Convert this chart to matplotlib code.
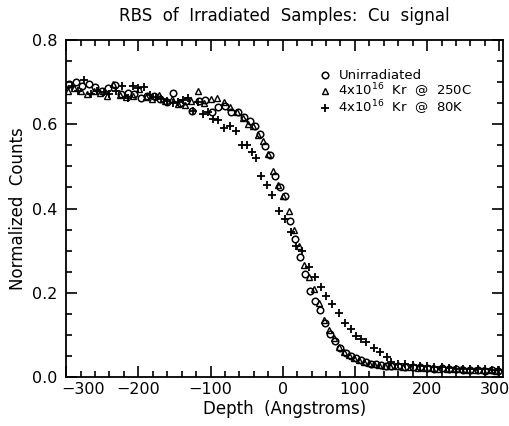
import matplotlib

matplotlib.use("Agg")

import matplotlib.pyplot as plt
import matplotlib.transforms as mtransforms
from matplotlib.lines import Line2D
from matplotlib.ticker import MultipleLocator

# Unirradiated (open circles)
unirr_depth = [-296, -287, -278, -269, -260, -251, -242, -233, -224, -215, -206, -197, -188, -179,
               -170, -161, -152, -143, -134, -125, -116, -107, -98, -89, -80, -71, -62, -53, -46,
               -39, -32, -25, -18, -11, -4, 3, 10, 17, 24, 31, 38, 45, 52, 59, 66, 73, 80, 87, 94,
               101, 108, 115, 122, 129, 136, 143, 150, 160, 170, 180, 190, 200, 210, 220, 230, 240,
               250, 260, 270, 280, 290, 298]
unirr_counts = [0.695, 0.700, 0.690, 0.695, 0.688, 0.680, 0.685, 0.693, 0.672, 0.675, 0.671, 0.662,
                0.668, 0.667, 0.660, 0.652, 0.674, 0.650, 0.655, 0.631, 0.655, 0.657, 0.629, 0.640,
                0.643, 0.629, 0.629, 0.617, 0.607, 0.595, 0.578, 0.548, 0.526, 0.478, 0.450, 0.430,
                0.371, 0.328, 0.285, 0.245, 0.205, 0.180, 0.160, 0.129, 0.102, 0.086, 0.068, 0.058,
                0.050, 0.045, 0.040, 0.035, 0.032, 0.030, 0.028, 0.027, 0.026, 0.025, 0.024, 0.024,
                0.023, 0.022, 0.020, 0.021, 0.018, 0.019, 0.017, 0.016, 0.017, 0.015, 0.016, 0.015]

# 4x10^16 Kr @ 250C (open triangles)
hot_depth = [-298, -289, -280, -271, -262, -253, -244, -235, -226, -217, -208, -199, -190, -181,
             -172, -163, -154, -145, -136, -127, -118, -109, -100, -91, -82, -73, -64, -55, -48,
             -41, -34, -27, -20, -13, -6, 1, 8, 15, 22, 29, 36, 43, 50, 57, 64, 71, 78, 85, 92, 99,
             106, 113, 120, 127, 134, 141, 148, 157, 167, 177, 187, 197, 207, 217, 227, 237, 247,
             257, 267, 277, 287, 296]
hot_counts = [0.680, 0.685, 0.678, 0.672, 0.680, 0.675, 0.668, 0.695, 0.670, 0.665, 0.668, 0.683,
              0.665, 0.660, 0.670, 0.655, 0.660, 0.648, 0.645, 0.655, 0.679, 0.650, 0.660, 0.662,
              0.652, 0.640, 0.629, 0.615, 0.600, 0.595, 0.575, 0.560, 0.530, 0.490, 0.455, 0.430,
              0.395, 0.348, 0.310, 0.266, 0.238, 0.210, 0.175, 0.135, 0.112, 0.092, 0.072, 0.060,
              0.052, 0.046, 0.040, 0.036, 0.033, 0.030, 0.028, 0.027, 0.026, 0.025, 0.024, 0.023,
              0.022, 0.022, 0.021, 0.020, 0.019, 0.019, 0.018, 0.017, 0.017, 0.016, 0.016, 0.015]

# 4x10^16 Kr @ 80K (plus signs)
cold_depth = [-300, -292, -284, -275, -266, -257, -248, -240, -231, -222, -215, -208, -200, -192,
              -184, -176, -168, -160, -152, -145, -138, -131, -124, -117, -110, -103, -96, -89,
              -81, -73, -65, -57, -49, -42, -37, -30, -22, -15, -5, 3, 11, 19, 27, 36, 45, 53, 60,
              68, 78, 86, 95, 101, 108, 115, 127, 135, 144, 150, 160, 170, 180, 190, 200, 210, 220,
              230, 240, 250, 260, 270, 280, 290, 298]
cold_counts = [0.685, 0.690, 0.680, 0.705, 0.672, 0.680, 0.676, 0.672, 0.680, 0.690, 0.662, 0.690,
               0.685, 0.688, 0.670, 0.665, 0.660, 0.655, 0.650, 0.652, 0.657, 0.662, 0.631, 0.652,
               0.624, 0.629, 0.612, 0.610, 0.590, 0.595, 0.583, 0.552, 0.550, 0.535, 0.519, 0.478,
               0.455, 0.431, 0.395, 0.376, 0.345, 0.312, 0.298, 0.262, 0.238, 0.214, 0.193, 0.174,
               0.152, 0.129, 0.114, 0.097, 0.090, 0.082, 0.069, 0.060, 0.048, 0.036, 0.032, 0.030,
               0.028, 0.027, 0.025, 0.024, 0.023, 0.022, 0.020, 0.020, 0.019, 0.018, 0.018, 0.017,
               0.016]

labels = ["Unirradiated", r"4x10$^{16}$  Kr  @  250C", r"4x10$^{16}$  Kr  @  80K"]

plt.rcParams["font.family"] = ["DejaVu Sans"]

circle_style = dict(linestyle="none", marker="o", markersize=4.7, markerfacecolor="none",
                    markeredgecolor="black", markeredgewidth=1.1)
triangle_style = dict(linestyle="none", marker="^", markersize=4.0, markerfacecolor="none",
                      markeredgecolor="black", markeredgewidth=1.0)
plus_style = dict(linestyle="none", marker="+", markersize=5.2, color="black", markeredgewidth=1.3)

fig = plt.figure(figsize=(5.09, 4.26), dpi=100)
ax = fig.add_axes([0.130, 0.115, 0.858, 0.791])

ax.plot(unirr_depth, unirr_counts, **circle_style)
ax.plot(hot_depth, hot_counts, **triangle_style)
ax.plot(cold_depth, cold_counts, **plus_style)

ax.set_xlim(-300, 305)
ax.set_ylim(0.0, 0.8)
ax.xaxis.set_major_locator(MultipleLocator(100))
ax.xaxis.set_minor_locator(MultipleLocator(20))
ax.yaxis.set_major_locator(MultipleLocator(0.2))
ax.yaxis.set_minor_locator(MultipleLocator(0.05))
ax.tick_params(which="both", direction="in", top=True, right=True, width=1.2, labelsize=11.5)
ax.tick_params(which="major", length=8)
ax.tick_params(which="minor", length=4)
ax.tick_params(axis="y", pad=6)
for spine in ax.spines.values():
    spine.set_linewidth(1.3)

ax.set_xticks([-300, -200, -100, 0, 100, 200, 300])
ax.set_xticklabels(["\u2212300", "\u2212200", "\u2212100", "0", "100", "200", "300"])
ax.set_yticks([0.0, 0.2, 0.4, 0.6, 0.8])
ax.set_yticklabels(["0.0", "0.2", "0.4", "0.6", "0.8"])
# end labels sit inward in the original
xlabels = ax.get_xticklabels()
xlabels[0].set_transform(xlabels[0].get_transform() + mtransforms.ScaledTranslation(0.17, 0, fig.dpi_scale_trans))
xlabels[-1].set_transform(xlabels[-1].get_transform() + mtransforms.ScaledTranslation(-0.04, 0, fig.dpi_scale_trans))

ax.set_xlabel("Depth  (Angstroms)", fontsize=12, labelpad=2)
ax.set_ylabel("Normalized  Counts", fontsize=12, labelpad=4)
ax.set_title("RBS  of  Irradiated  Samples:  Cu  signal", fontsize=12, pad=14)

handles = [Line2D([], [], **circle_style), Line2D([], [], **triangle_style), Line2D([], [], **plus_style)]
ax.legend(handles, labels, loc="upper left", bbox_to_anchor=(0.56, 0.94), frameon=False,
          fontsize=9.5, handlelength=0.8, handletextpad=0.6, labelspacing=-0.08, borderpad=0.2)

fig.savefig("out.png", dpi=100)
